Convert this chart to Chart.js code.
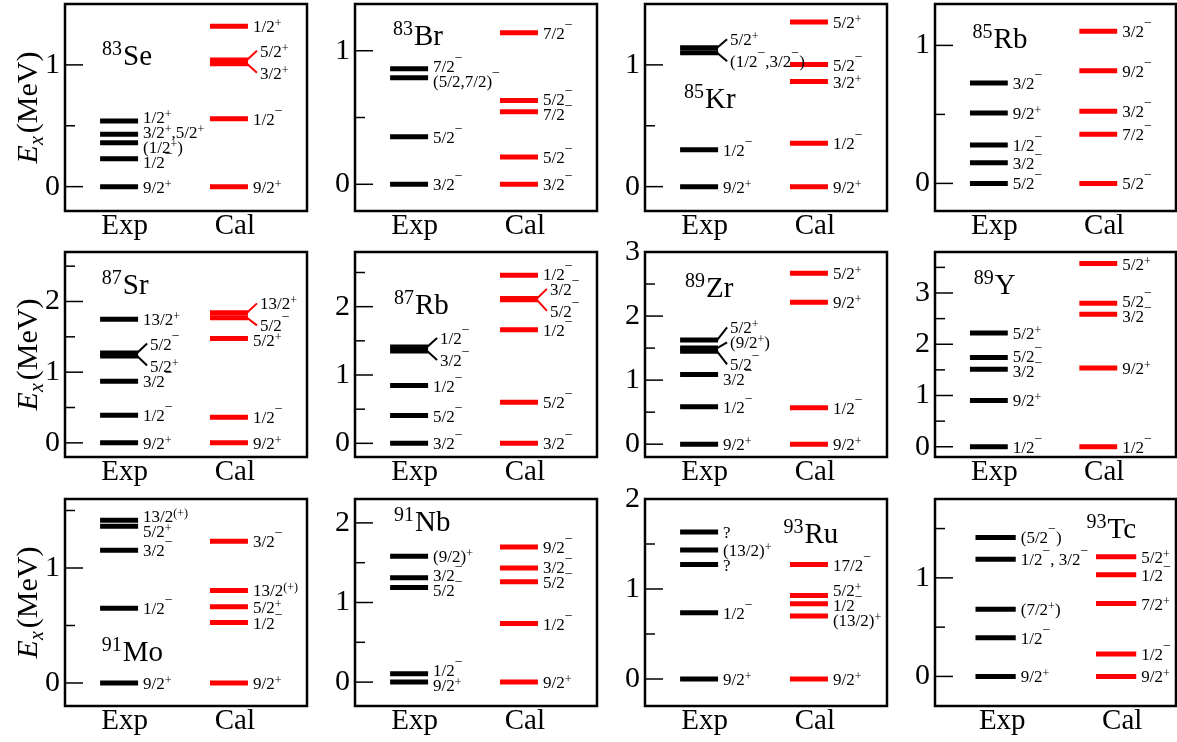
<!DOCTYPE html>
<html>
<head>
<meta charset="utf-8">
<script src="https://cdn.jsdelivr.net/npm/chart.js@4"></script>
<style>
html, body { margin: 0; padding: 0; background: #fff; }
#wrap { position: relative; width: 1177px; height: 742px; overflow: hidden; }
#wrap canvas { position: absolute; }
</style>
</head>
<body>
<div id="wrap"></div>
<script>
// level energies (MeV) and J^pi
var se83ExpE = [0, 0.23, 0.36, 0.43, 0.54];
var se83ExpJ = ['9/2+', '1/2-', '(1/2+)', '3/2+,5/2+', '1/2+'];
var se83CalE = [0, 0.557, 1.01, 1.04, 1.317];
var se83CalJ = ['9/2+', '1/2-', '3/2+', '5/2+', '1/2+'];

var br83ExpE = [0, 0.356, 0.797, 0.865];
var br83ExpJ = ['3/2-', '5/2-', '(5/2,7/2)-', '7/2-'];
var br83CalE = [0, 0.205, 0.544, 0.627, 1.135];
var br83CalJ = ['3/2-', '5/2-', '7/2-', '5/2-', '7/2-'];

var kr85ExpE = [0, 0.304, 1.10, 1.14];
var kr85ExpJ = ['9/2+', '1/2-', '(1/2-,3/2-)', '5/2+'];
var kr85CalE = [0, 0.356, 0.863, 1.003, 1.353];
var kr85CalJ = ['9/2+', '1/2-', '3/2+', '5/2-', '5/2+'];

var rb85ExpE = [0, 0.149, 0.279, 0.51, 0.727];
var rb85ExpJ = ['5/2-', '3/2-', '1/2-', '9/2+', '3/2-'];
var rb85CalE = [0, 0.356, 0.522, 0.816, 1.102];
var rb85CalJ = ['5/2-', '7/2-', '3/2-', '9/2-', '3/2-'];

var sr87ExpE = [0, 0.392, 0.873, 1.23, 1.27, 1.75];
var sr87ExpJ = ['9/2+', '1/2-', '3/2-', '5/2+', '5/2-', '13/2+'];
var sr87CalE = [0, 0.363, 1.476, 1.77, 1.84];
var sr87CalJ = ['9/2+', '1/2-', '5/2+', '5/2-', '13/2+'];

var rb87ExpE = [0, 0.406, 0.845, 1.35, 1.41];
var rb87ExpJ = ['3/2-', '5/2-', '1/2-', '3/2-', '1/2-'];
var rb87CalE = [0, 0.6, 1.662, 2.10, 2.12, 2.459];
var rb87CalJ = ['3/2-', '5/2-', '1/2-', '5/2-', '3/2-', '1/2-'];

var zr89ExpE = [0, 0.583, 1.089, 1.45, 1.50, 1.625];
var zr89ExpJ = ['9/2+', '1/2-', '3/2-', '5/2-', '(9/2+)', '5/2+'];
var zr89CalE = [0, 0.568, 2.214, 2.667];
var zr89CalJ = ['9/2+', '1/2-', '9/2+', '5/2+'];

var y89ExpE = [0, 0.903, 1.51, 1.742, 2.219];
var y89ExpJ = ['1/2-', '9/2+', '3/2-', '5/2-', '5/2+'];
var y89CalE = [0, 1.535, 2.587, 2.8, 3.574];
var y89CalJ = ['1/2-', '9/2+', '3/2-', '5/2-', '5/2+'];

var mo91ExpE = [0, 0.651, 1.154, 1.363, 1.416];
var mo91ExpJ = ['9/2+', '1/2-', '3/2-', '5/2+', '13/2(+)'];
var mo91CalE = [0, 0.526, 0.663, 0.805, 1.233];
var mo91CalJ = ['9/2+', '1/2-', '5/2+', '13/2(+)', '3/2-'];

var nb91ExpE = [0, 0.105, 1.189, 1.311, 1.58];
var nb91ExpJ = ['9/2+', '1/2-', '5/2-', '3/2-', '(9/2)+'];
var nb91CalE = [0, 0.735, 1.26, 1.433, 1.697];
var nb91CalJ = ['9/2+', '1/2-', '5/2-', '3/2-', '9/2-'];

var ru93ExpE = [0, 0.735, 1.272, 1.433, 1.634];
var ru93ExpJ = ['9/2+', '1/2-', '?', '(13/2)+', '?'];
var ru93CalE = [0, 0.701, 0.836, 0.929, 1.272];
var ru93CalJ = ['9/2+', '(13/2)+', '1/2-', '5/2+', '17/2-'];

var tc93ExpE = [0, 0.393, 0.681, 1.19, 1.41];
var tc93ExpJ = ['9/2+', '1/2-', '(7/2+)', '1/2-, 3/2-', '(5/2-)'];
var tc93CalE = [0, 0.227, 0.739, 1.031, 1.214];
var tc93CalJ = ['9/2+', '1/2-', '7/2+', '1/2-', '5/2+'];

// x runs 0..10 across each frame
var stdCols = { exp: [1.45, 3.02], cal: [5.99, 7.56], names: [2.46, 7.02] };
var tcCols = { exp: [1.68, 3.35], cal: [6.68, 8.35], names: [2.79, 7.77] };

var panels = [
  { mass: '83', sym: 'Se', exp: [se83ExpE, se83ExpJ], cal: [se83CalE, se83CalJ], y: [-0.2, 1.5], tag: [1.53, 1.0] },
  { mass: '83', sym: 'Br', exp: [br83ExpE, br83ExpJ], cal: [br83CalE, br83CalJ], y: [-0.2, 1.35], tag: [1.57, 1.045] },
  { mass: '85', sym: 'Kr', exp: [kr85ExpE, kr85ExpJ], cal: [kr85CalE, kr85CalJ], y: [-0.2, 1.5], tag: [1.61, 0.65] },
  { mass: '85', sym: 'Rb', exp: [rb85ExpE, rb85ExpJ], cal: [rb85CalE, rb85CalJ], y: [-0.2, 1.3], tag: [1.56, 0.983] },
  { mass: '87', sym: 'Sr', exp: [sr87ExpE, sr87ExpJ], cal: [sr87CalE, sr87CalJ], y: [-0.2, 2.7], tag: [1.52, 2.1] },
  { mass: '87', sym: 'Rb', exp: [rb87ExpE, rb87ExpJ], cal: [rb87CalE, rb87CalJ], y: [-0.2, 2.8], tag: [1.61, 1.89] },
  { mass: '89', sym: 'Zr', exp: [zr89ExpE, zr89ExpJ], cal: [zr89CalE, zr89CalJ], y: [-0.2, 3], tag: [1.65, 2.29] },
  { mass: '89', sym: 'Y', exp: [y89ExpE, y89ExpJ], cal: [y89CalE, y89CalJ], y: [-0.2, 3.8], tag: [1.61, 2.99] },
  { mass: '91', sym: 'Mo', exp: [mo91ExpE, mo91ExpJ], cal: [mo91CalE, mo91CalJ], y: [-0.2, 1.6], tag: [1.52, 0.194] },
  { mass: '91', sym: 'Nb', exp: [nb91ExpE, nb91ExpJ], cal: [nb91CalE, nb91CalJ], y: [-0.3, 2.3], tag: [1.61, 1.9] },
  { mass: '93', sym: 'Ru', exp: [ru93ExpE, ru93ExpJ], cal: [ru93CalE, ru93CalJ], y: [-0.3, 2], tag: [5.72, 1.51] },
  { mass: '93', sym: 'Tc', exp: [tc93ExpE, tc93ExpJ], cal: [tc93CalE, tc93CalJ], y: [-0.3, 1.8], tag: [6.29, 1.40], cols: tcCols }
];

var FONT = '"Liberation Serif", Tinos, "Times New Roman", "DejaVu Serif", serif';
var colLeft = [65, 355, 645, 935];
var colWidth = [242, 242, 242, 241];
var rowTop = [4, 252, 499];
var rowBottom = [211, 457, 706];
var rowPad = [4, 14, 14];
var AXIS_W = 65, AXIS_H = 36;

function splitJ(s) {
  var out = [], buf = '';
  for (var i = 0; i < s.length; i++) {
    var c = s[i];
    if (c === '(' && /[+-]/.test(s[i + 1] || '') && s[i + 2] === ')' && /\d/.test(s[i - 1] || '')) {
      if (buf) { out.push({ t: buf }); buf = ''; }
      out.push({ t: '(' + (s[i + 1] === '-' ? '\u2212' : '+') + ')', sup: true });
      i += 2;
    } else if (c === '+' || c === '-') {
      if (buf) { out.push({ t: buf }); buf = ''; }
      out.push({ t: c === '-' ? '\u2212' : '+', sup: true });
    } else {
      buf += c;
    }
  }
  if (buf) out.push({ t: buf });
  return out;
}

function drawJ(ctx, s, x, y) {
  ctx.textAlign = 'left';
  ctx.textBaseline = 'alphabetic';
  ctx.fillStyle = '#000';
  splitJ(s).forEach(function (p) {
    if (p.sup) {
      ctx.font = (p.t === '\u2212' ? '14px ' : '12px ') + FONT;
      ctx.fillText(p.t, x, p.t === '\u2212' ? y - 4 : y + 1);
    } else {
      ctx.font = '17px ' + FONT;
      ctx.fillText(p.t, x, y + 6);
    }
    x += ctx.measureText(p.t).width;
  });
}

// push labels apart so they do not overlap, keeping groups centred on their bars
function placeLabels(bars) {
  var gaps = [];
  for (var i = 0; i < bars.length - 1; i++) gaps.push(bars[i + 1] - bars[i] < 5.5 ? 22 : 15);
  function place(g) {
    var rel = 0, sum = 0;
    g.rel = [];
    for (var i = g.s; i <= g.e; i++) {
      if (i > g.s) rel += gaps[i - 1];
      g.rel.push(rel);
      sum += bars[i] - rel;
    }
    g.y0 = sum / (g.e - g.s + 1);
  }
  var groups = bars.map(function (b, i) { var g = { s: i, e: i }; place(g); return g; });
  var merged = true;
  while (merged) {
    merged = false;
    for (var k = 0; k < groups.length - 1; k++) {
      var a = groups[k], b = groups[k + 1];
      if (b.y0 - (a.y0 + a.rel[a.rel.length - 1]) < gaps[a.e]) {
        var g = { s: a.s, e: b.e };
        place(g);
        groups.splice(k, 2, g);
        merged = true;
        break;
      }
    }
  }
  var out = [];
  groups.forEach(function (g) { g.rel.forEach(function (r) { out.push(g.y0 + r); }); });
  return out;
}

var levelPlugin = {
  id: 'levels',
  afterDatasetsDraw: function (chart) {
    var o = chart.options.plugins.levels;
    var ctx = chart.ctx, a = chart.chartArea;
    var xs = chart.scales.x, ys = chart.scales.y;
    ctx.save();

    // inward tick marks
    ctx.strokeStyle = '#000';
    ctx.lineWidth = 1.5;
    ys.ticks.forEach(function (t) {
      var y = ys.getPixelForValue(t.value);
      var len = Math.abs(t.value - Math.round(t.value)) < 1e-6 ? 18 : 10;
      ctx.beginPath();
      ctx.moveTo(a.left, y);
      ctx.lineTo(a.left + len, y);
      ctx.stroke();
    });
    ctx.lineWidth = 2.5;
    ctx.strokeRect(a.left, a.top, a.right - a.left, a.bottom - a.top);

    // spin labels
    o.columns.forEach(function (col) {
      var x2 = xs.getPixelForValue(col.x2);
      var items = col.e.map(function (e, k) { return { y: ys.getPixelForValue(e), j: col.j[k] }; });
      items.sort(function (p, q) { return p.y - q.y; });
      var bars = items.map(function (it) { return it.y; });
      var ly = placeLabels(bars);
      items.forEach(function (it, k) {
        var near = (k > 0 && bars[k] - bars[k - 1] < 5.5) ||
                   (k < bars.length - 1 && bars[k + 1] - bars[k] < 5.5);
        var tx = x2 + 5;
        if (near || Math.abs(ly[k] - it.y) > 7) {
          ctx.strokeStyle = col.color;
          ctx.lineWidth = 2;
          ctx.beginPath();
          ctx.moveTo(x2 - 1, it.y);
          ctx.lineTo(x2 + 9, ly[k]);
          ctx.stroke();
          tx = x2 + 12;
        }
        drawJ(ctx, it.j, tx, ly[k]);
      });
    });

    // nucleus name
    var nx = xs.getPixelForValue(o.tag[0]), ny = ys.getPixelForValue(o.tag[1]);
    ctx.fillStyle = '#000';
    ctx.textAlign = 'left';
    ctx.textBaseline = 'alphabetic';
    ctx.font = '20px ' + FONT;
    ctx.fillText(o.mass, nx, ny - 10);
    nx += ctx.measureText(o.mass).width + 1;
    ctx.font = '29px ' + FONT;
    ctx.fillText(o.sym, nx, ny);

    // y title on the left column
    if (o.yTitle) {
      ctx.translate(0, (a.top + a.bottom) / 2);
      ctx.rotate(-Math.PI / 2);
      ctx.font = 'italic 30px ' + FONT;
      var wE = ctx.measureText('E').width;
      ctx.font = 'italic 20px ' + FONT;
      var wx = ctx.measureText('x').width;
      ctx.font = '30px ' + FONT;
      var wM = ctx.measureText('(MeV)').width;
      var u = -(wE + wx + 3 + wM) / 2;
      ctx.font = 'italic 30px ' + FONT;
      ctx.fillText('E', u, 37);
      ctx.font = 'italic 20px ' + FONT;
      ctx.fillText('x', u + wE, 43);
      ctx.font = '30px ' + FONT;
      ctx.fillText('(MeV)', u + wE + wx + 3, 37);
    }
    ctx.restore();
  }
};

var wrap = document.getElementById('wrap');

panels.forEach(function (p, i) {
  var r = Math.floor(i / 4), c = i % 4;
  var cols = p.cols || stdCols;
  var fw = colWidth[c], fh = rowBottom[r] - rowTop[r];
  var cv = document.createElement('canvas');
  cv.width = AXIS_W + fw + 3;
  cv.height = rowPad[r] + fh + AXIS_H;
  cv.style.left = (colLeft[c] - AXIS_W) + 'px';
  cv.style.top = (rowTop[r] - rowPad[r]) + 'px';
  wrap.appendChild(cv);

  var datasets = [];
  [[p.exp, cols.exp, '#000000'], [p.cal, cols.cal, '#ff0000']].forEach(function (s) {
    s[0][0].forEach(function (e) {
      datasets.push({
        data: [{ x: s[1][0], y: e }, { x: s[1][1], y: e }],
        borderColor: s[2],
        borderWidth: 5,
        borderCapStyle: 'butt',
        pointRadius: 0,
        fill: false
      });
    });
  });

  var yTicks = [];
  for (var v = 0; v <= p.y[1] + 1e-6; v += 0.5) yTicks.push({ value: v });

  new Chart(cv, {
    type: 'line',
    data: { datasets: datasets },
    options: {
      responsive: false,
      animation: false,
      devicePixelRatio: 1,
      events: [],
      layout: { padding: { top: rowPad[r], right: 3, bottom: 0, left: 0 } },
      plugins: {
        legend: { display: false },
        tooltip: { enabled: false },
        levels: {
          columns: [
            { e: p.exp[0], j: p.exp[1], x2: cols.exp[1], color: '#000000' },
            { e: p.cal[0], j: p.cal[1], x2: cols.cal[1], color: '#ff0000' }
          ],
          tag: p.tag, mass: p.mass, sym: p.sym, yTitle: c === 0
        }
      },
      scales: {
        x: {
          type: 'linear', min: 0, max: 10, bounds: 'data',
          grid: { display: false, drawTicks: false },
          border: { display: false },
          afterBuildTicks: function (s) { s.ticks = cols.names.map(function (n) { return { value: n }; }); },
          afterFit: function (s) { s.height = AXIS_H; s.paddingLeft = 0; s.paddingRight = 0; },
          ticks: {
            autoSkip: false, maxRotation: 0, padding: -2, color: '#000',
            font: { family: FONT, size: 29 },
            callback: function (val, idx) { return idx === 0 ? 'Exp' : 'Cal'; }
          }
        },
        y: {
          type: 'linear', min: p.y[0], max: p.y[1], bounds: 'data',
          grid: { display: false, drawTicks: false },
          border: { display: false },
          afterBuildTicks: function (s) { s.ticks = yTicks.slice(); },
          afterFit: function (s) { s.width = AXIS_W; s.paddingTop = 0; s.paddingBottom = 0; },
          ticks: {
            autoSkip: false, padding: 5, color: '#000',
            font: { family: FONT, size: 30 },
            callback: function (val) { return Math.abs(val - Math.round(val)) < 1e-6 ? String(Math.round(val)) : ''; }
          }
        }
      }
    },
    plugins: [levelPlugin]
  });
});
</script>
</body>
</html>
